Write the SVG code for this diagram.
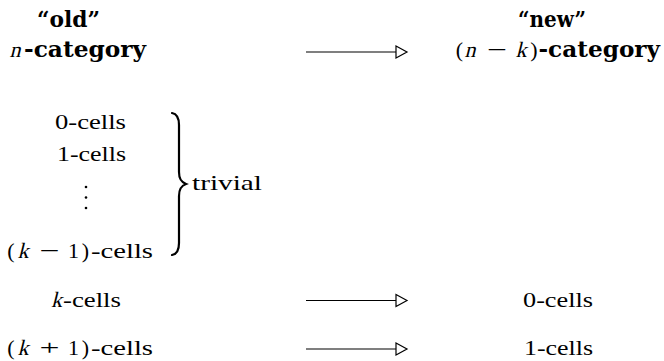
<svg xmlns="http://www.w3.org/2000/svg" width="664" height="361" viewBox="0 0 664 361">
<style>
text{font-family:"Liberation Serif","Times New Roman",serif;font-size:22px;fill:#000}
.b{font-family:"DejaVu Serif","Liberation Serif",serif;font-weight:bold;font-size:22px}
.c{text-anchor:middle}
.arrow{stroke:#000;stroke-width:1.2;fill:none}
.head{stroke:#000;stroke-width:1.2;fill:#fff}
.brace{stroke:#000;stroke-width:2.2;fill:none;stroke-linecap:round}
</style>
<rect width="664" height="361" fill="#fff"/>
<g id="old-header">
<text class="b" x="37" y="27" textLength="63" lengthAdjust="spacingAndGlyphs">“old”</text>
<text class="c" transform="translate(15,57) skewX(-14)">n</text>
<text class="b" x="24" y="57" textLength="122" lengthAdjust="spacingAndGlyphs">-category</text>
</g>
<g id="new-header">
<text class="b" x="518" y="27" textLength="68" lengthAdjust="spacingAndGlyphs">“new”</text>
<text class="c" x="459.5" y="57">(</text>
<text class="c" transform="translate(470,57) skewX(-14)">n</text>
<text x="487" y="57" textLength="20" lengthAdjust="spacingAndGlyphs">−</text>
<text class="c" transform="translate(521,57) skewX(-14)">k</text>
<text class="c" x="534" y="57">)</text>
<text class="b" x="538.5" y="57" textLength="121.5" lengthAdjust="spacingAndGlyphs">-category</text>
</g>
<g id="trivial-cells">
<text x="55" y="129" textLength="71" lengthAdjust="spacingAndGlyphs">0-cells</text>
<text x="57" y="161" textLength="69" lengthAdjust="spacingAndGlyphs">1-cells</text>
<circle cx="86" cy="187" r="1.3"/>
<circle cx="86" cy="197.5" r="1.3"/>
<circle cx="86" cy="208" r="1.3"/>
<text class="c" x="11" y="258">(</text>
<text class="c" transform="translate(23,258) skewX(-14)">k</text>
<text x="39.5" y="258" textLength="20" lengthAdjust="spacingAndGlyphs">−</text>
<text class="c" x="73.5" y="258">1</text>
<text class="c" x="85.5" y="258">)</text>
<text x="91" y="258" textLength="62" lengthAdjust="spacingAndGlyphs">-cells</text>
</g>
<g id="brace">
<path class="brace" d="M172,113 C177.5,114 179,118 179,125 L179,172 C179,179 181,182 186,184 C181,186 179,189 179,196 L179,243 C179,250 177.5,254 172,255"/>
<text x="192" y="190" textLength="70" lengthAdjust="spacingAndGlyphs">trivial</text>
</g>
<g id="k-cells">
<text class="c" transform="translate(56.5,307) skewX(-14)">k</text>
<text x="63" y="307" textLength="58" lengthAdjust="spacingAndGlyphs">-cells</text>
</g>
<g id="k1-cells">
<text class="c" x="11" y="355">(</text>
<text class="c" transform="translate(23,355) skewX(-14)">k</text>
<text x="39.5" y="355" textLength="20" lengthAdjust="spacingAndGlyphs">+</text>
<text class="c" x="73.5" y="355">1</text>
<text class="c" x="85.5" y="355">)</text>
<text x="91" y="355" textLength="62" lengthAdjust="spacingAndGlyphs">-cells</text>
</g>
<g id="zero-cells"><text x="523" y="307" textLength="70" lengthAdjust="spacingAndGlyphs">0-cells</text></g>
<g id="one-cells"><text x="524" y="355" textLength="69" lengthAdjust="spacingAndGlyphs">1-cells</text></g>
<g id="connectors">
<line class="arrow" x1="306" y1="52" x2="396" y2="52"/>
<path class="head" d="M396,46 L407,52 L396,58 Z"/>
<line class="arrow" x1="306" y1="300.5" x2="396" y2="300.5"/>
<path class="head" d="M396,294.5 L407,300.5 L396,306.5 Z"/>
<line class="arrow" x1="306" y1="349" x2="396" y2="349"/>
<path class="head" d="M396,343 L407,349 L396,355 Z"/>
</g>
</svg>
